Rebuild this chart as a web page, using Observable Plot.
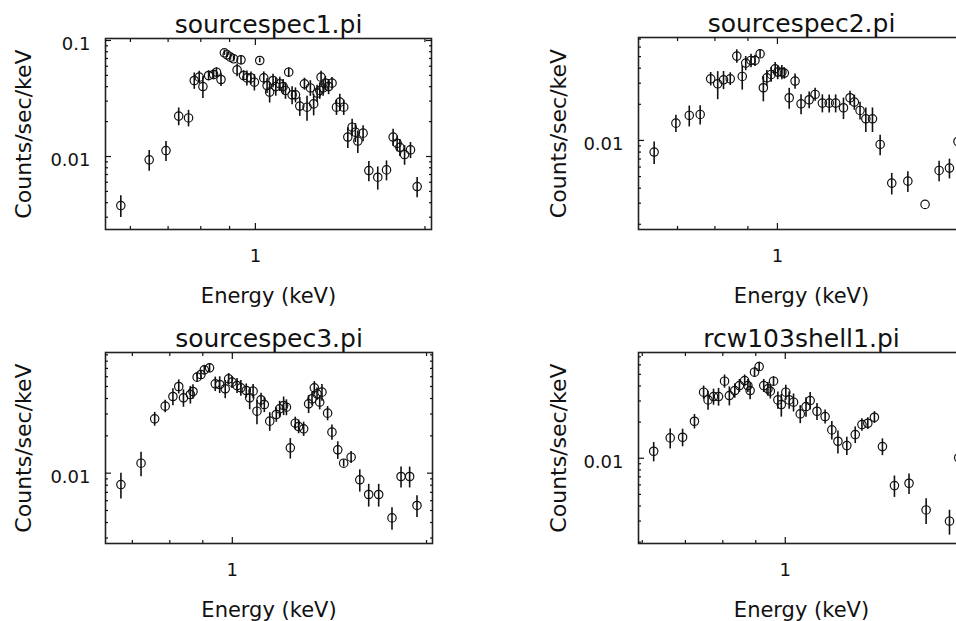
<!DOCTYPE html>
<html>
<head>
<meta charset="utf-8">
<script src="https://cdn.jsdelivr.net/npm/d3@7"></script>
<script src="https://cdn.jsdelivr.net/npm/@observablehq/plot@0.6"></script>
<style>
html, body { margin: 0; padding: 0; background: #fff; }
#wrap { position: relative; width: 956px; height: 621px; overflow: hidden; background: #fff; }
.panel { position: absolute; }
.panel svg { max-width: none !important; }
</style>
</head>
<body>
<div id="wrap"></div>
<script>
// ---- text ----
const titles = ["sourcespec1.pi", "sourcespec2.pi", "sourcespec3.pi", "rcw103shell1.pi"];
const xLabel = "Energy (keV)";
const yLabel = "Counts/sec/keV";

// ---- tick values ----
const xMajorTicks = [1];
const xMinorTicks = [0.5, 0.6, 0.7, 0.8, 0.9, 2, 3];
const yMajorTicks = [0.001, 0.01, 0.1];
const yMinorTicks = [0.002, 0.003, 0.004, 0.005, 0.006, 0.007, 0.008, 0.009,
                     0.02, 0.03, 0.04, 0.05, 0.06, 0.07, 0.08, 0.09];

// ---- sourcespec1.pi ----
const energy1 = [0.577,0.648,0.694,0.731,0.761,0.779,0.795,0.807,0.826,0.843,0.853,0.869,0.881,0.891,0.903,0.915,0.928,0.943,0.953,0.966,0.982,0.996,1.018,1.035,1.049,1.060,1.075,1.087,1.105,1.120,1.131,1.146,1.162,1.178,1.199,1.222,1.235,1.252,1.269,1.287,1.301,1.308,1.319,1.331,1.349,1.368,1.393,1.412,1.435,1.459,1.485,1.505,1.520,1.553,1.590,1.649,1.709,1.756,1.785,1.805,1.840,1.885,1.937];
const counts1 = [0.00378,0.00936,0.01126,0.0223,0.0215,0.0452,0.0483,0.0401,0.0499,0.0509,0.0533,0.0461,0.0783,0.0752,0.0718,0.0695,0.0558,0.0681,0.0499,0.0476,0.0476,0.0437,0.0672,0.0476,0.0409,0.0359,0.0452,0.0401,0.0423,0.0401,0.0371,0.0533,0.034,0.034,0.0272,0.0423,0.0266,0.039,0.0284,0.0352,0.0371,0.0483,0.039,0.0429,0.0401,0.0429,0.0266,0.0294,0.0266,0.0147,0.0179,0.0162,0.0136,0.0159,0.00757,0.00663,0.00767,0.0147,0.0130,0.0120,0.0104,0.0114,0.00551];
const err1 = [0.0008,0.0019,0.0022,0.0039,0.0035,0.0073,0.006,0.0085,0.005,0.005,0.005,0.006,0.004,0.004,0.004,0.004,0.007,0.006,0.005,0.007,0.006,0.007,0.003,0.006,0.006,0.007,0.006,0.007,0.006,0.006,0.006,0.005,0.006,0.005,0.005,0.005,0.0065,0.006,0.006,0.006,0.006,0.006,0.006,0.006,0.006,0.005,0.004,0.005,0.004,0.003,0.003,0.003,0.003,0.0025,0.0015,0.0015,0.0015,0.0025,0.002,0.002,0.002,0.0018,0.0011];

// ---- sourcespec2.pi ----
const energy2 = [0.644,0.696,0.730,0.759,0.788,0.808,0.825,0.845,0.865,0.882,0.893,0.910,0.923,0.940,0.951,0.963,0.978,0.992,1.001,1.016,1.025,1.043,1.065,1.088,1.120,1.144,1.174,1.203,1.231,1.266,1.296,1.316,1.343,1.371,1.404,1.443,1.504,1.593,1.694,1.781,1.848,1.905];
const counts2 = [0.0080,0.01394,0.01616,0.01647,0.03265,0.02966,0.03203,0.03265,0.05044,0.03415,0.0441,0.0464,0.0464,0.05275,0.02748,0.03328,0.03548,0.03955,0.0371,0.0371,0.0364,0.02268,0.03122,0.0202,0.02183,0.02417,0.02047,0.02047,0.02047,0.01872,0.02268,0.02086,0.01778,0.01515,0.01515,0.00926,0.00441,0.00458,0.00293,0.00562,0.00588,0.0098];
const err2 = [0.0017,0.0023,0.0032,0.003,0.0042,0.0078,0.0055,0.004,0.0065,0.0079,0.006,0.006,0.005,0.004,0.0065,0.005,0.005,0.005,0.005,0.005,0.004,0.0045,0.0045,0.0038,0.0035,0.003,0.0035,0.0035,0.0035,0.0038,0.003,0.003,0.003,0.0035,0.0035,0.0018,0.0009,0.0009,0,0.0011,0.0011,0.0018];

// ---- sourcespec3.pi ----
const energy3 = [0.672,0.722,0.758,0.787,0.809,0.826,0.840,0.861,0.869,0.882,0.894,0.905,0.922,0.941,0.956,0.975,0.987,0.999,1.017,1.031,1.051,1.064,1.077,1.092,1.108,1.121,1.143,1.170,1.184,1.201,1.213,1.230,1.252,1.267,1.290,1.313,1.329,1.340,1.353,1.366,1.377,1.405,1.427,1.457,1.488,1.528,1.576,1.627,1.686,1.768,1.826,1.883,1.933];
const counts3 = [0.0081,0.01204,0.02743,0.0347,0.04152,0.05,0.0405,0.04309,0.04556,0.05946,0.06248,0.06813,0.07071,0.05253,0.05189,0.04787,0.05765,0.05418,0.05093,0.04877,0.04642,0.0405,0.04585,0.03162,0.03903,0.03579,0.02627,0.02972,0.03302,0.03513,0.03406,0.016,0.0253,0.02378,0.02278,0.03623,0.03977,0.04877,0.04364,0.03737,0.04501,0.03047,0.02142,0.01542,0.01204,0.01346,0.00884,0.00673,0.00673,0.00436,0.0094,0.0094,0.00549];
const err3 = [0.0019,0.0027,0.0035,0.004,0.0065,0.0065,0.0065,0.007,0.006,0.005,0.005,0.006,0.006,0.007,0.008,0.008,0.006,0.006,0.007,0.007,0.006,0.008,0.006,0.007,0.005,0.005,0.0045,0.004,0.005,0.006,0.005,0.003,0.003,0.003,0.003,0.006,0.005,0.006,0.005,0.005,0.007,0.004,0.003,0.0025,0.0008,0.0015,0.0018,0.0014,0.0014,0.0009,0.0018,0.0018,0.0011];

// ---- rcw103shell1.pi ----
const energy4 = [0.625,0.663,0.693,0.723,0.747,0.759,0.774,0.788,0.805,0.819,0.835,0.849,0.865,0.875,0.882,0.896,0.911,0.926,0.940,0.948,0.959,0.974,0.986,1.002,1.014,1.030,1.055,1.077,1.093,1.120,1.153,1.181,1.207,1.246,1.284,1.315,1.343,1.375,1.415,1.477,1.556,1.654,1.798,1.858];
const counts4 = [0.01144,0.01477,0.01496,0.02034,0.03548,0.03063,0.03265,0.03265,0.04383,0.03328,0.03664,0.04033,0.04438,0.04033,0.03664,0.05209,0.05807,0.04033,0.03783,0.03617,0.04383,0.03063,0.028,0.03548,0.03063,0.02929,0.02341,0.02695,0.03024,0.02464,0.02225,0.01722,0.01386,0.01275,0.01575,0.01908,0.01957,0.02196,0.01251,0.00592,0.00619,0.00371,0.00299,0.0101];
const err4 = [0.0021,0.0028,0.0025,0.0028,0.0045,0.0055,0.005,0.0055,0.0055,0.006,0.005,0.005,0.005,0.005,0.006,0.005,0.005,0.005,0.005,0.005,0.004,0.005,0.006,0.005,0.005,0.005,0.004,0.005,0.005,0.004,0.003,0.003,0.003,0.0022,0.0025,0.0023,0.0022,0.0025,0.002,0.0012,0.0012,0.0009,0.0007,0.0018];

// ---- panel layout and scale domains ----
const panels = [
  {title: titles[0], energy: energy1, counts: counts1, err: err1,
   left: 0, top: 0, width: 478, height: 310, mL: 105, mR: 47, mT: 38, mB: 81,
   xDomain: [0.542, 2.054], yDomain: [0.00235, 0.104], yLabelDx: -82},
  {title: titles[1], energy: energy2, counts: counts2, err: err2,
   left: 478, top: 0, width: 500, height: 310, mL: 160, mR: 14, mT: 37, mB: 81,
   xDomain: [0.609, 1.95], yDomain: [0.00181, 0.0721], yLabelDx: -80},
  {title: titles[2], energy: energy3, counts: counts3, err: err3,
   left: 0, top: 310, width: 478, height: 310, mL: 105, mR: 46, mT: 42, mB: 77,
   xDomain: [0.636, 2.043], yDomain: [0.00271, 0.094], yLabelDx: -82},
  {title: titles[3], energy: energy4, counts: counts4, err: err4,
   left: 478, top: 310, width: 500, height: 310, mL: 160, mR: 14, mT: 42, mB: 77,
   xDomain: [0.592, 1.897], yDomain: [0.00195, 0.076], yLabelDx: -80}
];

const ink = "#111";

function drawPanel(p) {
  const data = p.energy.map((e, i) => ({e, c: p.counts[i], s: p.err[i]}));
  const [x0, x1] = p.xDomain, [y0, y1] = p.yDomain;
  const inX = t => t >= x0 && t <= x1;
  const inY = t => t >= y0 && t <= y1;
  const xMaj = xMajorTicks.filter(inX), xMin = xMinorTicks.filter(inX);
  const yMaj = yMajorTicks.filter(inY), yMin = yMinorTicks.filter(inY);
  const tickStyle = {fill: "none", label: null, stroke: ink, strokeWidth: 1.2};

  const marks = [
    Plot.frame({stroke: "#222", strokeWidth: 1.6}),
    // inward ticks on all four sides
    Plot.axisX(xMaj, {anchor: "bottom", tickSize: -6, ...tickStyle}),
    Plot.axisX(xMin, {anchor: "bottom", tickSize: -3, ...tickStyle}),
    Plot.axisX(xMaj, {anchor: "top", tickSize: -6, ...tickStyle}),
    Plot.axisX(xMin, {anchor: "top", tickSize: -3, ...tickStyle}),
    Plot.axisY(yMaj, {anchor: "left", tickSize: -6, ...tickStyle}),
    Plot.axisY(yMin, {anchor: "left", tickSize: -3, ...tickStyle}),
    Plot.axisY(yMaj, {anchor: "right", tickSize: -6, ...tickStyle}),
    Plot.axisY(yMin, {anchor: "right", tickSize: -3, ...tickStyle}),
    // tick labels
    Plot.axisX(xMaj, {anchor: "bottom", tickSize: 0, tickPadding: 20, fontSize: 18,
      tickFormat: d => String(d), label: null, fill: ink}),
    Plot.axisY(yMaj, {anchor: "left", tickSize: 0, tickPadding: 15, fontSize: 18, dy: 4,
      tickFormat: d => String(d), label: null, fill: ink}),
    // error bars and points
    Plot.ruleX(data, {x: "e", y1: d => d.c - d.s, y2: d => d.c + d.s, stroke: ink, strokeWidth: 1.6}),
    Plot.dot(data, {x: "e", y: "c", r: 4.2, stroke: ink, strokeWidth: 1.2, fill: "none"}),
    // title and axis labels
    Plot.text([p.title], {frameAnchor: "top", text: d => d, dy: -6, lineAnchor: "bottom",
      fontSize: 25, fill: ink}),
    Plot.text([xLabel], {frameAnchor: "bottom", text: d => d, dy: 67, lineAnchor: "middle",
      fontSize: 21, fill: ink}),
    Plot.text([yLabel], {frameAnchor: "left", text: d => d, dx: p.yLabelDx, rotate: -90,
      lineAnchor: "middle", textAnchor: "middle", fontSize: 22, fill: ink})
  ];

  const chart = Plot.plot({
    width: p.width, height: p.height,
    marginLeft: p.mL, marginRight: p.mR, marginTop: p.mT, marginBottom: p.mB,
    x: {type: "log", domain: p.xDomain},
    y: {type: "log", domain: p.yDomain},
    style: {fontFamily: "'DejaVu Sans', sans-serif", color: ink, background: "transparent", overflow: "visible"},
    marks
  });
  const div = document.createElement("div");
  div.className = "panel";
  div.style.left = p.left + "px";
  div.style.top = p.top + "px";
  div.style.width = p.width + "px";
  div.style.height = p.height + "px";
  div.appendChild(chart);
  document.getElementById("wrap").appendChild(div);
}

panels.forEach(drawPanel);
</script>
</body>
</html>
